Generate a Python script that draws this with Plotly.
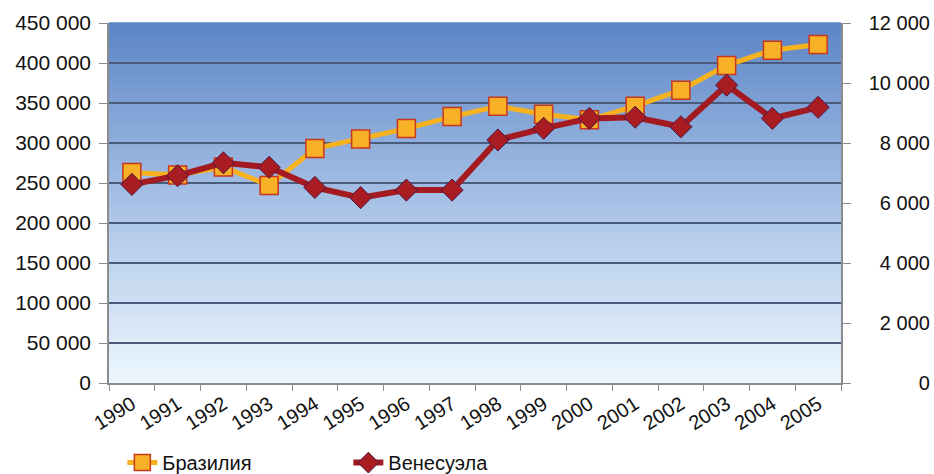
import plotly.graph_objects as go

# Years on the category axis
years = [str(y) for y in range(1990, 2006)]

# Brazil (left axis)
brazil = [263000, 260000, 270000, 247000, 293000, 305000, 318000, 333000,
          346000, 336000, 329000, 346000, 366000, 397000, 416000, 423000]

# Venezuela (right axis)
venezuela = [6620, 6910, 7340, 7190, 6520, 6180, 6430, 6430,
             8100, 8490, 8820, 8860, 8540, 9930, 8820, 9190]

left_ticks = list(range(0, 450001, 50000))
right_ticks = list(range(0, 12001, 2000))

FONT = "Liberation Sans, Arial, sans-serif"


def grouped(v):
    return f"{v:,}".replace(",", " ")


# Right-axis labels padded on the left so they line up at their right edge
_widest = grouped(max(right_ticks))


def right_label(v):
    s = grouped(v)
    digits = sum(ch.isdigit() for ch in _widest) - sum(ch.isdigit() for ch in s)
    spaces = _widest.count(" ") - s.count(" ")
    return "\u2007" * digits + "\u2008" * spaces + s


fig = go.Figure()

fig.add_trace(go.Scatter(
    x=years, y=brazil, name="Бразилия", mode="lines+markers",
    line=dict(color="#f7b21f", width=5),
    marker=dict(symbol="square", size=18, color="#f8b126",
                line=dict(color="#c9361e", width=1.5)),
    yaxis="y",
))
fig.add_trace(go.Scatter(
    x=years, y=venezuela, name="Венесуэла", mode="lines+markers",
    line=dict(color="#a31b20", width=6),
    marker=dict(symbol="diamond", size=17, color="#a81c22",
                line=dict(color="#4d1a44", width=1)),
    yaxis="y2",
))

# Vertical gradient behind the plot area, built from thin bands
def lerp(a, b, t):
    return tuple(round(a[i] + (b[i] - a[i]) * t) for i in range(3))

top_c = (92, 133, 198)
mid_c = (168, 194, 230)
bot_c = (237, 247, 253)
bands = 90
shapes = []
for i in range(bands):
    t = (i + 0.5) / bands  # 0 at bottom, 1 at top
    if t < 0.5:
        c = lerp(bot_c, mid_c, t / 0.5)
    else:
        c = lerp(mid_c, top_c, (t - 0.5) / 0.5)
    shapes.append(dict(
        type="rect", xref="paper", yref="paper",
        x0=0, x1=1, y0=i / bands, y1=(i + 1) / bands + 0.002,
        fillcolor="rgb(%d,%d,%d)" % c, line=dict(width=0), layer="below",
    ))

fig.update_layout(
    width=934, height=474,
    margin=dict(l=109, r=93, t=23, b=91, autoexpand=False),
    paper_bgcolor="white", plot_bgcolor="white",
    font=dict(family=FONT, size=21, color="#111"),
    shapes=shapes,
    showlegend=True,
    legend=dict(orientation="h", xref="container", yref="container",
                x=0.131, y=0.024, xanchor="left", yanchor="middle",
                font=dict(size=20),
                entrywidth=181, entrywidthmode="pixels",
                bgcolor="rgba(0,0,0,0)"),
    xaxis=dict(
        type="category", tickson="boundaries", ticks="outside",
        ticklen=6, tickcolor="#8c8c8c", showline=True, linecolor="#8c8c8c",
        linewidth=1.5, tickangle=-32, tickfont=dict(size=20),
        showgrid=False, range=[-0.5, 15.5], automargin=False,
    ),
    yaxis=dict(
        range=[0, 450000], tickvals=left_ticks,
        ticktext=[grouped(v) for v in left_ticks],
        ticks="outside", ticklen=8, tickcolor="#8c8c8c",
        showline=True, linecolor="#8c8c8c", linewidth=1.5,
        showgrid=True, gridcolor="#4a5b7c", gridwidth=1.5,
        zeroline=False, ticklabelstandoff=4, automargin=False,
    ),
    yaxis2=dict(
        range=[0, 12000], tickvals=right_ticks,
        ticktext=[right_label(v) for v in right_ticks],
        overlaying="y", side="right", tickfont=dict(size=20),
        ticks="outside", ticklen=8, tickcolor="#8c8c8c",
        showline=True, linecolor="#8c8c8c", linewidth=1.5,
        showgrid=False, zeroline=False, ticklabelstandoff=14,
        automargin=False,
    ),
)

fig.write_html("out.html")
